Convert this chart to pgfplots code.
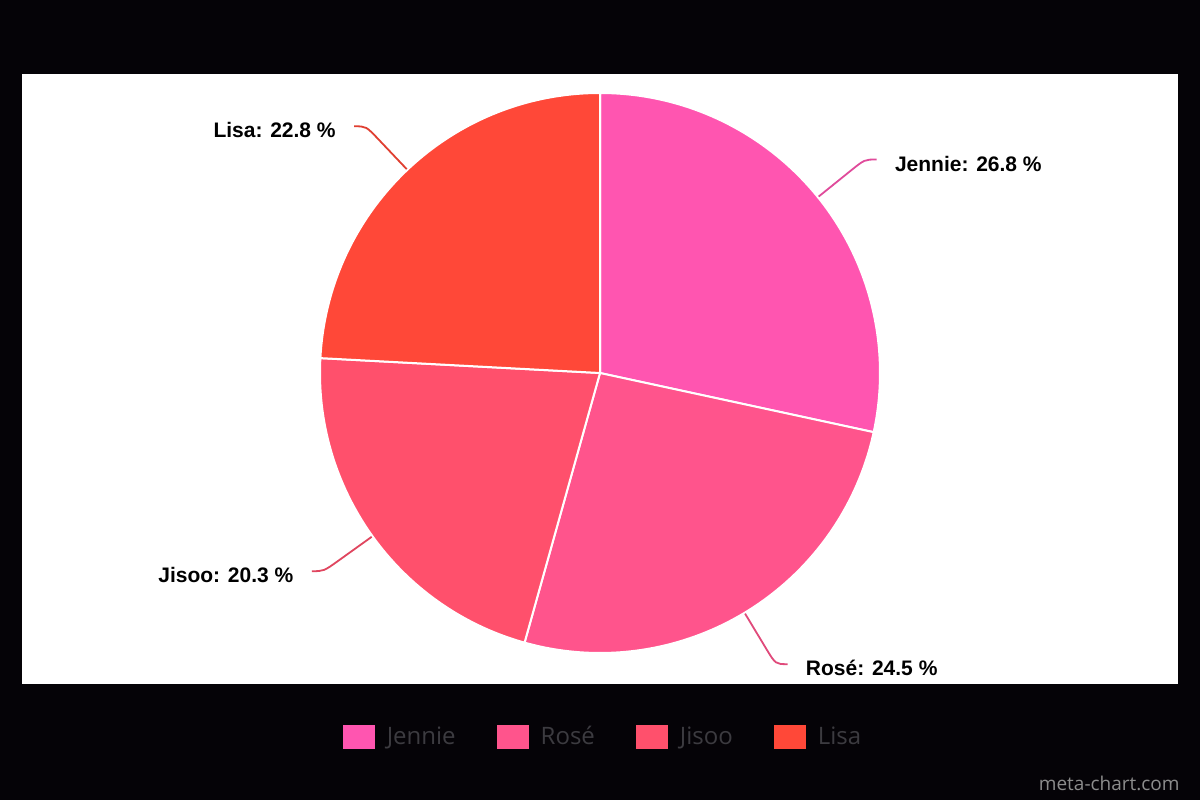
\documentclass[border=0pt]{standalone}
\usepackage{fontspec}
\setmainfont{Liberation Sans}
\newfontfamily\legendfont{Open Sans}
\usepackage{pgfplots}
\usepackage{pgfplotstable}
\pgfplotsset{compat=1.18}

\definecolor{slice0}{HTML}{FF55B0}
\definecolor{slice1}{HTML}{FF548C}
\definecolor{slice2}{HTML}{FF506C}
\definecolor{slice3}{HTML}{FF4838}
\definecolor{legendgray}{HTML}{3C3B40}
\definecolor{bg}{HTML}{050307}
\definecolor{markgray}{HTML}{8C8C8C}

\pgfplotstableread{
name value
Jennie 26.8
Rosé 24.5
Jisoo 20.3
Lisa 22.8
}\piedata

% pie centre (600,427) and radius 280 in pixel units, 1 unit = 0.5pt
\newcommand\getv[2]{\csname #1#2\endcsname}
\newcommand\slice[1]{%
  \fill[slice#1, draw=white, line width=1pt] (axis cs:600,427)
    -- (axis cs:{600+280*cos(\getv{sa}{#1})},{427+280*sin(\getv{sa}{#1})})
    arc[start angle=\getv{sa}{#1}, end angle=\getv{ea}{#1}, radius=140pt] -- cycle;}
\newcommand\leader[3]{%
  \draw[slice#1!88!black, line width=0.9pt]
    (axis cs:{600+281*cos(\getv{ma}{#1})},{427+281*sin(\getv{ma}{#1})})
    -- (axis cs:{600+322*cos(\getv{ma}{#1})},{427+322*sin(\getv{ma}{#1})})
    .. controls (axis cs:{600+340*cos(\getv{ma}{#1})},{427+340*sin(\getv{ma}{#1})}) ..
    (axis cs:{600+340*cos(\getv{ma}{#1})+#2*12},{427+340*sin(\getv{ma}{#1})});
  \node[anchor=#3, inner sep=0pt, font=\fontsize{10.5}{12}\selectfont\bfseries]
    at (axis cs:{600+340*cos(\getv{ma}{#1})+#2*30},{427+340*sin(\getv{ma}{#1})-4})
    {\getv{nm}{#1}: \getv{vl}{#1} \%};}

\begin{document}
\begin{tikzpicture}
% total and slice angles, clockwise from the top
\gdef\total{0}
\foreach \i in {0,...,3}{%
  \pgfplotstablegetelem{\i}{value}\of\piedata
  \pgfmathparse{\total+\pgfplotsretval}\xdef\total{\pgfmathresult}}
\gdef\cur{90}
\foreach \i in {0,...,3}{%
  \pgfplotstablegetelem{\i}{value}\of\piedata
  \expandafter\xdef\csname vl\i\endcsname{\pgfplotsretval}%
  \pgfmathsetmacro\sweep{\pgfplotsretval/\total*360}%
  \pgfmathsetmacro\nxt{\cur-\sweep}%
  \pgfmathsetmacro\md{\cur-\sweep/2}%
  \expandafter\xdef\csname sa\i\endcsname{\cur}%
  \expandafter\xdef\csname ea\i\endcsname{\nxt}%
  \expandafter\xdef\csname ma\i\endcsname{\md}%
  \pgfplotstablegetelem{\i}{name}\of\piedata
  \expandafter\xdef\csname nm\i\endcsname{\pgfplotsretval}%
  \xdef\cur{\nxt}}
\begin{axis}[
  x=0.5pt, y=0.5pt,
  xmin=0, xmax=1200, ymin=0, ymax=800,
  hide axis, clip=false,
  legend columns=-1,
  legend image code/.code={\fill[#1] (0pt,-6pt) rectangle (16pt,6pt);},
  legend style={at={(axis cs:604,63)}, anchor=center, draw=none, fill=none,
    text=legendgray, font=\legendfont\fontsize{12}{14}\selectfont,
    /tikz/every odd column/.append style={column sep=4pt},
    /tikz/every even column/.append style={column sep=18.5pt}},
  ]
  \fill[bg] (axis cs:0,0) rectangle (axis cs:1200,800);
  \fill[white] (axis cs:22,116) rectangle (axis cs:1178,726);
  \slice{0}\slice{1}\slice{2}\slice{3}
  \leader{0}{1}{west}
  \leader{1}{1}{west}
  \leader{2}{-1}{east}
  \leader{3}{-1}{east}
  \addlegendimage{fill=slice0, draw=none}\addlegendentry{Jennie}
  \addlegendimage{fill=slice1, draw=none}\addlegendentry{Rosé}
  \addlegendimage{fill=slice2, draw=none}\addlegendentry{Jisoo}
  \addlegendimage{fill=slice3, draw=none}\addlegendentry{Lisa}
  \node[anchor=east, inner sep=0pt, text=markgray,
    font=\legendfont\fontsize{9.5}{11}\selectfont] at (axis cs:1180,17) {meta-chart.com};
\end{axis}
\end{tikzpicture}
\end{document}
